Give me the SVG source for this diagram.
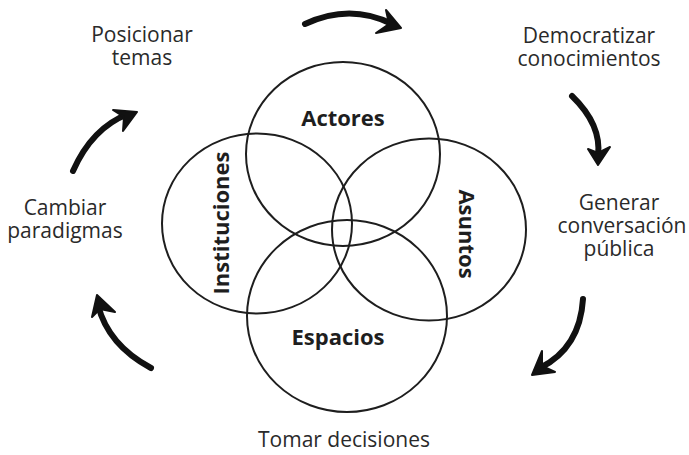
<svg xmlns="http://www.w3.org/2000/svg" width="689" height="455" viewBox="0 0 689 455">
<style>
.c{fill:none;stroke:#1e1e1e;stroke-width:2}
.lb{font-family:"Open Sans","Liberation Sans",sans-serif;font-weight:bold;font-size:22px;fill:#1e1e1e;text-anchor:middle}
.t{font-family:"Open Sans","Liberation Sans",sans-serif;font-size:21px;fill:#2a2a2a;text-anchor:middle}
.sh{fill:none;stroke:#111;stroke-width:6;stroke-linecap:round}
.hd{fill:#111;stroke:#111;stroke-width:2;stroke-linejoin:round}
</style>
<rect width="689" height="455" fill="#fff"/>
<g id="actores"><ellipse class="c" cx="343" cy="154" rx="97" ry="92"/><text class="lb" x="343" y="126">Actores</text></g>
<g id="instituciones"><ellipse class="c" cx="257" cy="223.5" rx="95" ry="90"/><text class="lb" transform="translate(229,223) rotate(-90)" x="0" y="0">Instituciones</text></g>
<g id="asuntos"><ellipse class="c" cx="429" cy="229.5" rx="97" ry="91"/><text class="lb" transform="translate(459,234) rotate(90)" x="0" y="0">Asuntos</text></g>
<g id="espacios"><ellipse class="c" cx="347" cy="316" rx="100" ry="96"/><text class="lb" x="338" y="345">Espacios</text></g>
<g id="posicionar"><text class="t" x="142" y="42">Posicionar</text><text class="t" x="142" y="65">temas</text></g>
<g id="democratizar"><text class="t" x="589" y="43">Democratizar</text><text class="t" x="589" y="66">conocimientos</text></g>
<g id="generar"><text class="t" x="619" y="210">Generar</text><text class="t" x="622" y="233">conversación</text><text class="t" x="619" y="256">pública</text></g>
<g id="tomar"><text class="t" x="344" y="447">Tomar decisiones</text></g>
<g id="cambiar"><text class="t" x="65" y="215">Cambiar</text><text class="t" x="65" y="238">paradigmas</text></g>
<g id="connectors">
<path class="sh" d="M305,24 Q350,3 392,24"/>
<polygon class="hd" points="386,10 401,28 376,33 389,24"/>
<path class="sh" d="M572,96 Q602,125 598,156"/>
<polygon class="hd" points="588,149 598,165 610,147 598,153"/>
<path class="sh" d="M583,299 Q580,348 540,368"/>
<polygon class="hd" points="542,351 532,375 555,372 542,366"/>
<path class="sh" d="M151,368 Q108,345 98,305"/>
<polygon class="hd" points="92,317 97,295 115,312 100,309"/>
<path class="sh" d="M73,171 Q92,128 128,114"/>
<polygon class="hd" points="113,110 137,112 123,131 124,117"/>
</g>
</svg>
